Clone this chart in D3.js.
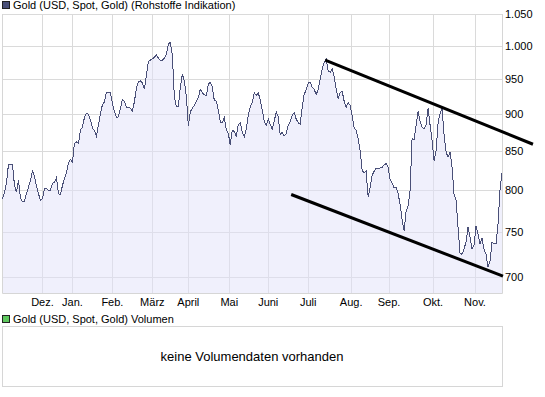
<!DOCTYPE html>
<html>
<head>
<meta charset="utf-8">
<script src="https://cdn.jsdelivr.net/npm/d3@7"></script>
<style>
  body { margin: 0; background: #fff; }
  text { font-family: "Liberation Sans", Arial, sans-serif; fill: #000; }
</style>
</head>
<body>
<svg id="chart" width="545" height="397"></svg>
<script>
// Gold spot price (USD), one value per sampled trading day, Nov. 2007 - Nov. 2008
const prices = [
  790, 797, 810, 833, 833, 833, 806, 798, 813, 791,
  786, 787, 796, 804, 813, 824, 818, 805, 796, 788,
  790, 802, 802, 800, 800, 809, 810, 816, 796, 795,
  806, 815, 822, 834, 839, 836, 860, 862, 860, 878,
  882, 895, 901, 900, 892, 881, 877, 870, 885, 900,
  913, 917, 931, 930, 930, 915, 904, 895, 896, 908,
  920, 918, 909, 909, 908, 904, 917, 936, 946, 947,
  944, 935, 955, 976, 978, 980, 982, 986, 981, 978,
  978, 981, 987, 1002, 1005, 985, 925, 910, 910, 938,
  957, 947, 925, 884, 903, 908, 912, 918, 923, 935,
  930, 927, 926, 942, 945, 939, 919, 918, 906, 889,
  888, 895, 878, 874, 858, 878, 876, 870, 885, 888,
  875, 869, 880, 898, 910, 916, 930, 926, 930, 920,
  906, 890, 885, 893, 886, 879, 890, 903, 896, 872,
  875, 870, 873, 885, 889, 898, 902, 893, 888, 886,
  909, 928, 934, 944, 945, 938, 935, 927, 935, 950,
  965, 975, 979, 962, 960, 965, 954, 935, 922, 930,
  932, 918, 909, 916, 912, 898, 881, 878, 867, 851,
  825, 822, 824, 792, 804, 819, 824, 828, 827, 828,
  829, 832, 834, 829, 814, 809, 803, 804, 796, 783,
  765, 752, 775, 781, 800, 867, 865, 884, 904, 890,
  882, 880, 885, 908, 885, 864, 837, 850, 888, 901,
  908, 872, 849, 842, 849, 829, 795, 788, 756, 726,
  725, 731, 739, 756, 744, 731, 735, 757, 748, 737,
  743, 731, 725, 711, 717, 739, 737, 737, 760, 800,
  822
];

// month starts (position in the price series) and their labels
const monthLabels = ['Dez.', 'Jan.', 'Feb.', 'März', 'April', 'Mai', 'Juni', 'Juli', 'Aug.', 'Sep.', 'Okt.', 'Nov.'];
const monthStartIdx = [20, 35, 55, 75, 93, 113.5, 133, 153, 174.5, 193.5, 215.5, 236.5];

const yTicks = [700, 750, 800, 850, 900, 950, 1000, 1050];

// hand drawn trend channel: [index, price] pairs
const trendLines = [
  [[161.5, 978], [265.5, 859]],
  [[144.5, 795], [250.5, 701]]
];

const svg = d3.select('#chart');

const plotLeft = 2, plotRight = 502, plotTop = 14, plotBottom = 293;

const x = d3.scaleLinear().domain([0, prices.length - 1]).range([plotLeft + 0.5, plotRight]);
const y = d3.scaleLog().domain([683, 1050]).range([plotBottom, plotTop]);

const de = d3.formatLocale({ decimal: ',', thousands: '.', grouping: [3], currency: ['', ' €'] });
const fmt = de.format(',d');

const px = (v) => Math.round(v) + 0.5;

// grid
const grid = svg.append('g').attr('stroke', '#dadada').attr('stroke-width', 1);
grid.selectAll('line.h')
  .data(yTicks)
  .join('line')
  .attr('class', 'h')
  .attr('x1', plotLeft).attr('x2', plotRight + 1)
  .attr('y1', (d) => px(y(d))).attr('y2', (d) => px(y(d)));
grid.selectAll('line.v')
  .data(monthStartIdx)
  .join('line')
  .attr('class', 'v')
  .attr('x1', (d) => px(x(d))).attr('x2', (d) => px(x(d)))
  .attr('y1', plotTop).attr('y2', plotBottom);

// area under the price line
svg.append('path')
  .datum(prices)
  .attr('fill', '#e2e2fa')
  .attr('fill-opacity', 0.5)
  .attr('d', d3.area().x((d, i) => x(i)).y0(plotBottom).y1((d) => y(d)));

// frame
svg.append('path')
  .attr('d', `M${plotLeft + 0.5},${plotTop} V${plotBottom + 0.5} H${plotRight + 0.5} V${plotTop}`)
  .attr('fill', 'none')
  .attr('stroke', '#d6d6d6');

// price line
svg.append('path')
  .datum(prices)
  .attr('fill', 'none')
  .attr('stroke', '#4a5078')
  .attr('stroke-width', 1)
  .attr('shape-rendering', 'crispEdges')
  .attr('d', d3.line().x((d, i) => x(i)).y((d) => y(d)));

// trend channel
svg.append('g')
  .selectAll('line')
  .data(trendLines)
  .join('line')
  .attr('x1', (d) => x(d[0][0])).attr('y1', (d) => y(d[0][1]))
  .attr('x2', (d) => x(d[1][0])).attr('y2', (d) => y(d[1][1]))
  .attr('stroke', '#000')
  .attr('stroke-width', 3);

// y labels
svg.append('g')
  .selectAll('text')
  .data(yTicks)
  .join('text')
  .attr('x', plotRight + 3)
  .attr('y', (d) => y(d))
  .attr('dy', '0.35em')
  .attr('font-size', '11px')
  .text((d) => fmt(d));

// month labels
svg.append('g')
  .selectAll('text')
  .data(monthStartIdx)
  .join('text')
  .attr('x', (d) => x(d))
  .attr('y', 306)
  .attr('text-anchor', 'middle')
  .attr('font-size', '11px')
  .text((d, i) => monthLabels[i]);

// legends
function legend(yPos, color, label) {
  svg.append('rect')
    .attr('x', 2.5).attr('y', yPos - 7.5)
    .attr('width', 7).attr('height', 7)
    .attr('fill', color)
    .attr('stroke', '#222');
  svg.append('text')
    .attr('x', 13).attr('y', yPos)
    .attr('font-size', '11px')
    .text(label);
}
legend(9, '#4a5078', 'Gold (USD, Spot, Gold) (Rohstoffe Indikation)');
legend(323, '#5ec85e', 'Gold (USD, Spot, Gold) Volumen');

// empty volume panel
svg.append('rect')
  .attr('x', plotLeft + 0.5).attr('y', 326.5)
  .attr('width', plotRight - plotLeft).attr('height', 60)
  .attr('fill', '#fff')
  .attr('stroke', '#d6d6d6');
svg.append('text')
  .attr('x', (plotLeft + plotRight) / 2)
  .attr('y', 356)
  .attr('dy', '0.35em')
  .attr('text-anchor', 'middle')
  .attr('font-size', '13px')
  .text('keine Volumendaten vorhanden');
</script>
</body>
</html>
